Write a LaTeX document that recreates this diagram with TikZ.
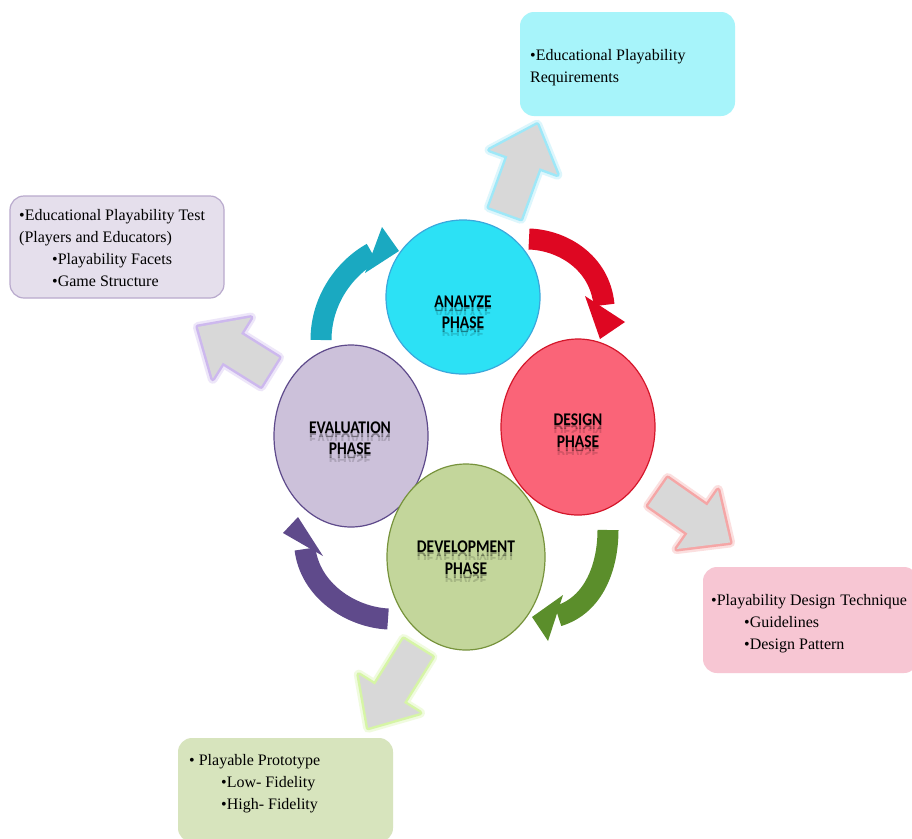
\documentclass[tikz,border=0pt]{standalone}
\usepackage{fontspec}
\setmainfont{Liberation Serif}
\newfontfamily\lblfont{Carlito}
\usepackage{graphicx}
\usetikzlibrary{shapes.geometric}

\definecolor{anaF}{HTML}{2CE1F5}
\definecolor{anaB}{HTML}{3AA8DC}
\definecolor{desF}{HTML}{FA6478}
\definecolor{desB}{HTML}{D4162A}
\definecolor{evaF}{HTML}{CCC1DA}
\definecolor{evaB}{HTML}{5E4A8B}
\definecolor{devF}{HTML}{C3D69B}
\definecolor{devB}{HTML}{77933C}
\definecolor{arTeal}{HTML}{1AA9C1}
\definecolor{arRed}{HTML}{DE0722}
\definecolor{arGreen}{HTML}{5B8E2B}
\definecolor{arPurple}{HTML}{5F4A8B}
\definecolor{grayAr}{HTML}{D8D8D8}
\definecolor{glowC}{HTML}{9EE8F8}
\definecolor{glowL}{HTML}{CDB8EE}
\definecolor{glowP}{HTML}{F5A6A6}
\definecolor{glowG}{HTML}{D6F5A6}
\definecolor{boxC}{HTML}{A7F4FA}
\definecolor{boxL}{HTML}{E5DFEC}
\definecolor{boxLB}{HTML}{B9AACD}
\definecolor{boxP}{HTML}{F7C6D3}
\definecolor{boxG}{HTML}{D7E4BD}

% block arrow: base point, rotation, length, glow colour
\newcommand\blockarrow[4]{%
 \begin{scope}[shift={#1}, rotate=#2]
  \path[preaction={draw=#4, line width=10pt, opacity=.35, line join=round},
        preaction={draw=#4, line width=5pt, line join=round},
        fill=grayAr] (0,-17) -- ({#3-40},-17) -- ({#3-40},-36) -- (#3,0)
        -- ({#3-40},36) -- ({#3-40},17) -- (0,17) -- cycle;
 \end{scope}}

% curved cycle arrow: colour, tail, c1, c2, end, barb1, tip, barb2
\newcommand\cycarrow[8]{%
 \draw[#1, line width=21pt] #2 .. controls #3 and #4 .. #5;
 \fill[#1] #6 -- #7 -- #8 -- cycle;}

% phase label with faded reflection: name, x, baseline y, text
\newcommand\phlbl[4]{%
 \node[lbl] (#1) at (#2,#3) {\scalebox{1}[1.15]{#4}};
 \begin{scope}
  \clip (#2-70,#3) rectangle (#2+70,#3+3.5);
  \node[lbl, text=black, opacity=.35] (#1r) at (#2,#3) {\scalebox{1}[-1.15]{#4}};
 \end{scope}
 \begin{scope}
  \clip (#2-70,#3+3.5) rectangle (#2+70,#3+7.5);
  \node[lbl, text=black, opacity=.15] (#1s) at (#2,#3) {\scalebox{1}[-1.15]{#4}};
 \end{scope}}

\tikzset{
  lbl/.style={font=\lblfont\bfseries\fontsize{15.5}{18}\selectfont, inner sep=0, anchor=base},
  btxt/.style={font=\fontsize{16}{22}\selectfont, inner sep=0, anchor=base west},
  infobox/.style={rounded corners=14pt, inner sep=0, minimum width=215pt},
  phase/.style={ellipse, inner sep=0, line width=1.2pt}
}

\begin{document}
\begin{tikzpicture}[x=1pt, y=-1pt]
\fill[white] (0,0) rectangle (912,838);
\useasboundingbox (0,0) rectangle (912,838);

% info boxes
\node[infobox, fill=boxC, minimum height=104pt] (boxA) at (627.5,64) {};
\node[infobox, fill=boxL, draw=boxLB, line width=1.2pt, minimum width=214pt, minimum height=102pt] (boxE) at (117,247) {};
\node[infobox, fill=boxP, minimum height=106pt] (boxD) at (810.5,620) {};
\node[infobox, fill=boxG, minimum height=104pt] (boxV) at (285.5,790) {};

\node[btxt] (tA1) at (530,60) {•Educational Playability};
\node[btxt] (tA2) at (530,82) {Requirements};

\node[btxt] (tE1) at (19,220) {•Educational Playability Test};
\node[btxt] (tE2) at (19,242) {(Players and Educators)};
\node[btxt] (tE3) at (52,264) {•Playability Facets};
\node[btxt] (tE4) at (52,286) {•Game Structure};

\node[btxt] (tD1) at (711,605) {•Playability Design\hspace{1pt} Technique};
\node[btxt] (tD2) at (744,627) {•Guidelines};
\node[btxt] (tD3) at (744,649) {•Design Pattern};

\node[btxt] (tV1) at (189,765) {• Playable Prototype};
\node[btxt] (tV2) at (221,787) {•Low- Fidelity};
\node[btxt] (tV3) at (221,809) {•High- Fidelity};

% grey block arrows
\blockarrow{(505,213)}{70}{94}{glowC}
\blockarrow{(270,372)}{148}{85}{glowL}
\blockarrow{(658,492)}{-35}{88}{glowP}
\blockarrow{(418,648)}{-122}{94}{glowG}

% cycle arrows
\cycarrow{arTeal}{(321,340)}{(321,300)}{(345,268)}{(372,253)}{(382,227)}{(399,251)}{(365,273)}
\cycarrow{arRed}{(529,239)}{(562,240)}{(600,262)}{(604,305)}{(585,296)}{(600,339)}{(625,322)}
\cycarrow{arGreen}{(608,530)}{(608,565)}{(595,605)}{(558,616)}{(563,595)}{(532,617)}{(548,641)}
\cycarrow{arPurple}{(388,619)}{(350,617)}{(310,590)}{(305,549)}{(283,533)}{(298,517)}{(323,556)}

% phases
\node[phase, fill=anaF, draw=anaB, minimum width=154pt, minimum height=154pt] (ana) at (463,297) {};
\node[phase, fill=desF, draw=desB, minimum width=154pt, minimum height=176pt] (des) at (578,427) {};
\node[phase, fill=evaF, draw=evaB, minimum width=154pt, minimum height=182pt] (eva) at (351,436) {};
\node[phase, fill=devF, draw=devB, minimum width=158pt, minimum height=186pt] (dev) at (466,557) {};

\phlbl{lA1}{463}{307}{ANALYZE}
\phlbl{lA2}{463}{328}{PHASE}
\phlbl{lD1}{578}{425}{DESIGN}
\phlbl{lD2}{578}{447}{PHASE}
\phlbl{lE1}{350}{433}{EVALUATION}
\phlbl{lE2}{350}{454}{PHASE}
\phlbl{lV1}{466}{552}{DEVELOPMENT}
\phlbl{lV2}{466}{574}{PHASE}
\end{tikzpicture}
\end{document}
